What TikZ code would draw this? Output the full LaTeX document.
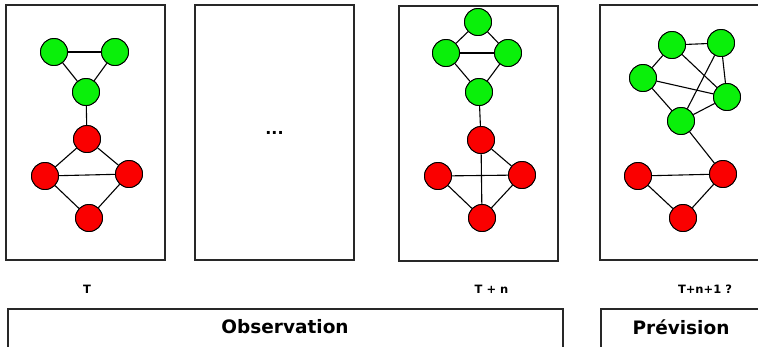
\documentclass[tikz,border=0pt]{standalone}
\usepackage{fontspec}
\setmainfont{DejaVu Sans}
\usepackage{xcolor}
\usepackage{tikz}
\usetikzlibrary{positioning}
\definecolor{lime}{RGB}{10,240,10}
\definecolor{hot}{RGB}{250,0,0}
\definecolor{frame}{RGB}{40,40,40}

\begin{document}
\begin{tikzpicture}[
  x=1pt, y=-1pt,
  every node/.style={font=\bfseries},
  vtxg/.style={circle, draw=black, line width=0.9pt, fill=lime, minimum size=27pt, inner sep=0pt},
  vtxr/.style={circle, draw=black, line width=0.9pt, fill=hot, minimum size=27pt, inner sep=0pt},
  panel/.style={draw=frame, line width=1.1pt, minimum width=159pt, minimum height=255pt, inner sep=0pt},
  caption/.style={font=\bfseries\fontsize{11.5}{13}\selectfont},
  band/.style={font=\bfseries\fontsize{18.5}{21}\selectfont},
  edge/.style={draw=black, line width=1.1pt}
]
\clip (0,0) rectangle (758,346);

% time windows
\node[panel] (p1) at (85.5,132.5) {};
\node[panel] (p2) at (274.5,132.5) {};
\node[panel] (p3) at (478.5,133.5) {};
\node[panel] (p4) at (679.5,132.5) {};

\node[font=\bfseries\fontsize{16}{18}\selectfont] (dots) at (p2.center) {...};

% graph at T
\node[vtxg] (a1) at (54,52) {};
\node[vtxg] (a2) at (115,52) {};
\node[vtxg] (a3) at (86,92) {};
\node[vtxr] (a4) at (87,139) {};
\node[vtxr] (a5) at (45,176) {};
\node[vtxr] (a6) at (129,174) {};
\node[vtxr] (a7) at (89,218) {};

% graph at T + n
\node[vtxg] (b1) at (478,22) {};
\node[vtxg] (b2) at (446,53) {};
\node[vtxg] (b3) at (508,53) {};
\node[vtxg] (b4) at (479,92) {};
\node[vtxr] (b5) at (481,140) {};
\node[vtxr] (b6) at (438,176) {};
\node[vtxr] (b7) at (522,175) {};
\node[vtxr] (b8) at (482,218) {};

% predicted graph
\node[vtxg] (c1) at (672,45) {};
\node[vtxg] (c2) at (721,43) {};
\node[vtxg] (c3) at (643,78) {};
\node[vtxg] (c4) at (727,97) {};
\node[vtxg] (c5) at (681,121) {};
\node[vtxr] (c6) at (638,176) {};
\node[vtxr] (c7) at (723,174) {};
\node[vtxr] (c8) at (683,218) {};

\foreach \x/\y in {a1/a2, a1/a3, a2/a3, a3/a4, a4/a5, a4/a6, a5/a6, a5/a7, a6/a7}
  \draw[edge] (\x) -- (\y);
\foreach \x/\y in {b1/b2, b1/b3, b2/b3, b2/b4, b3/b4, b4/b5, b5/b7, b5/b8, b6/b7, b6/b8, b7/b8}
  \draw[edge] (\x) -- (\y);
\foreach \x/\y in {c1/c2, c1/c3, c1/c4, c2/c4, c2/c5, c3/c4, c3/c5, c4/c5, c5/c7, c6/c7, c6/c8, c7/c8}
  \draw[edge] (\x) -- (\y);

% redraw nodes above edges
\foreach \n in {a1,a2,a3,b1,b2,b3,b4,c1,c2,c3,c4,c5}
  \node[vtxg] at (\n) {};
\foreach \n in {a4,a5,a6,a7,b5,b6,b7,b8,c6,c7,c8}
  \node[vtxr] at (\n) {};

% time stamps
\node[caption] (t0) at (87,289) {T};
\node[caption] (t1) at (491.5,289) {T + n};
\node[caption] (t2) at (705,289) {T+n+1 ?};

% bottom bands
\draw[frame, line width=1.1pt] (8,352) -- (8,309) -- (563,309) -- (563,352);
\draw[frame, line width=1.1pt] (601,352) -- (601,309) -- (765,309);
\node[band] (obs) at (285,327) {Observation};
\node[band] (prev) at (681,327) {Prévision};
\end{tikzpicture}
\end{document}
